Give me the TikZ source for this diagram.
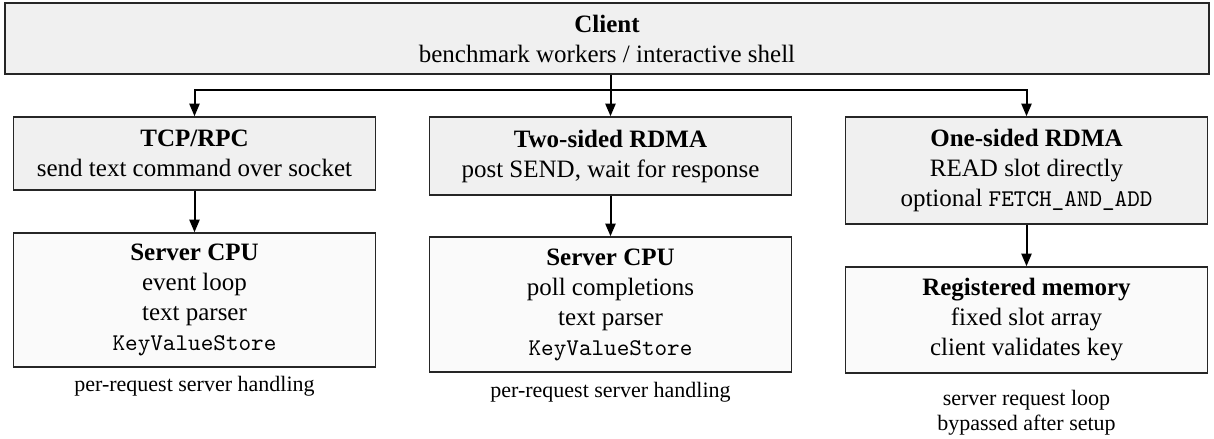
\documentclass[tikz,border=0pt]{standalone}
\usepackage{fontspec}
\setmainfont{Liberation Serif}
\usetikzlibrary{arrows.meta}
\newcommand\mytt[1]{{\ttfamily\fontsize{9.6}{12}\selectfont #1}}
\begin{document}
\begin{tikzpicture}[x=0.4pt,y=-0.4pt,
  box/.style={draw=black!85, line width=0.6pt, align=center,
    font=\fontsize{10}{12}\selectfont, inner sep=0pt, minimum width=144.8pt},
  upper/.style={box, fill=black!6},
  lower/.style={box, fill=black!2},
  note/.style={align=center, font=\fontsize{8.8}{10}\selectfont, inner sep=0pt},
  arr/.style={-{Triangle[length=5pt,width=4pt]}, line width=0.8pt}]
\useasboundingbox (0,0) rectangle (1214,439);
\node[upper, minimum width=481.6pt, minimum height=28.4pt] (client) at (607,38.5)
  {\textbf{Client}\\benchmark workers / interactive shell};
\node[upper, minimum height=29.2pt] (tcp) at (194.5,153.5)
  {\textbf{TCP/RPC}\\send text command over socket};
\node[upper, minimum height=31.2pt] (two) at (610.5,156)
  {\textbf{Two-sided RDMA}\\post SEND, wait for response};
\node[upper, minimum height=42.8pt] (one) at (1026.5,170.5)
  {\textbf{One-sided RDMA}\\READ slot directly\\optional \mytt{FETCH\_AND\_ADD}};
\node[lower, minimum height=53.6pt] (cpu1) at (194.5,300)
  {\textbf{Server CPU}\\event loop\\text parser\\\mytt{KeyValueStore}};
\node[lower, minimum height=54pt] (cpu2) at (610.5,304.5)
  {\textbf{Server CPU}\\poll completions\\text parser\\\mytt{KeyValueStore}};
\node[lower, minimum height=42.4pt] (mem) at (1026.5,320)
  {\textbf{Registered memory}\\fixed slot array\\client validates key};
\node[note] (l1) at (194.5,386) {per-request server handling};
\node[note] (l2) at (610.5,392) {per-request server handling};
\node[note] (l3) at (1026.5,413) {server request loop\\bypassed after setup};
\coordinate (j) at (610.5,90);
\draw[arr] (client.south -| two.north) -- (two.north);
\draw[arr] (j) -| (tcp.north);
\draw[arr] (j) -| (one.north);
\draw[arr] (tcp.south) -- (cpu1.north);
\draw[arr] (two.south) -- (cpu2.north);
\draw[arr] (one.south) -- (mem.north);
\end{tikzpicture}
\end{document}
